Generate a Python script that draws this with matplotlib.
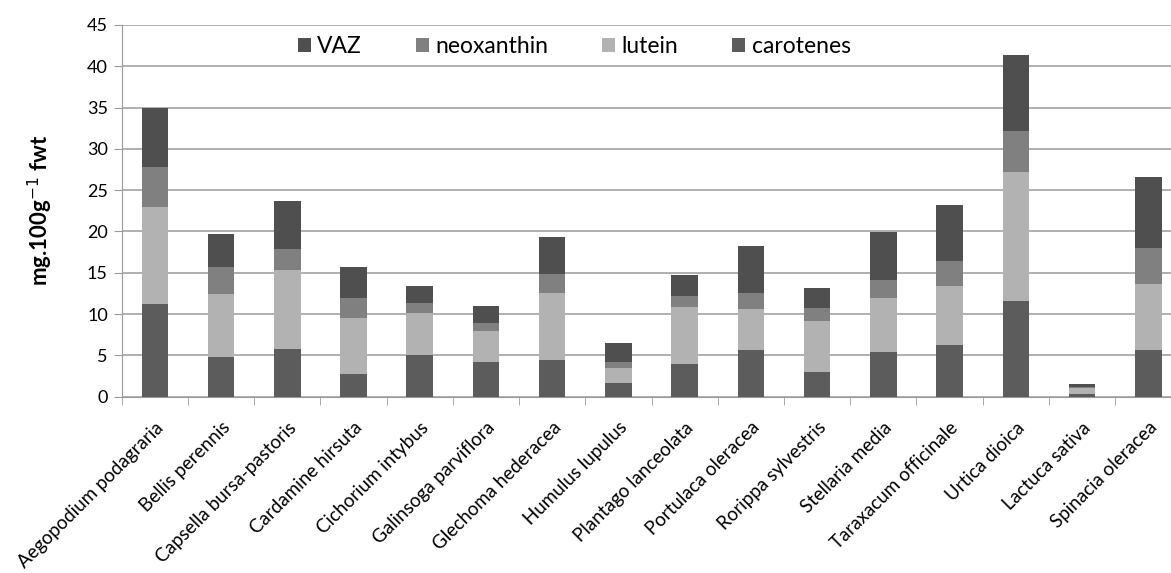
import numpy as np
import matplotlib.pyplot as plt
import matplotlib.transforms as mtransforms

plt.rcParams['font.family'] = ['Lato', 'DejaVu Sans']

species = ['Aegopodium podagraria', 'Bellis perennis', 'Capsella bursa-pastoris',
           'Cardamine hirsuta', 'Cichorium intybus', 'Galinsoga parviflora',
           'Glechoma hederacea', 'Humulus lupulus', 'Plantago lanceolata',
           'Portulaca oleracea', 'Rorippa sylvestris', 'Stellaria media',
           'Taraxacum officinale', 'Urtica dioica', 'Lactuca sativa',
           'Spinacia oleracea']

carotenes = [11.2, 4.8, 5.8, 2.7, 5.1, 4.2, 4.5, 1.7, 4.0, 5.65, 3.0, 5.4, 6.3, 11.6, 0.32, 5.7]
lutein = [11.8, 7.6, 9.5, 6.85, 5.0, 3.75, 8.1, 1.77, 6.9, 4.95, 6.2, 6.55, 7.1, 15.6, 0.69, 8.0]
neoxanthin = [4.8, 3.25, 2.55, 2.45, 1.2, 1.0, 2.25, 0.73, 1.3, 2.0, 1.5, 2.2, 3.05, 5.0, 0.2, 4.27]
vaz = [7.1, 4.0, 5.85, 3.7, 2.1, 2.05, 4.45, 2.25, 2.5, 5.65, 2.4, 5.8, 6.8, 9.2, 0.32, 8.58]

fig = plt.figure(figsize=(11.71, 5.73), dpi=100)
ax = fig.add_axes([0.1039, 0.3077, 0.905, 0.6487])

x = np.arange(len(species))
w = 0.40
bot = np.zeros(len(species))
bars = {}
for name, vals, col in [('carotenes', carotenes, '#5c5c5c'),
                        ('lutein', lutein, '#b2b2b2'),
                        ('neoxanthin', neoxanthin, '#808080'),
                        ('VAZ', vaz, '#4f4f4f')]:
    bars[name] = ax.bar(x, vals, w, bottom=bot, color=col, zorder=3)
    bot += np.array(vals)

ax.set_xlim(-0.5, len(species) - 0.5)
ax.set_ylim(0, 45)
ax.set_yticks(range(0, 46, 5))
ax.yaxis.grid(True, color='#aaaaaa', linewidth=1.3, zorder=0)

for s in ['top', 'right']:
    ax.spines[s].set_visible(False)
ax.spines['left'].set_color('#9a9a9a')
ax.spines['bottom'].set_color('#9a9a9a')

ax.set_xticks(x)
ax.set_xticklabels(species, rotation=45, ha='right', rotation_mode='anchor', fontsize=13.5)
# nudge labels a little to the right, like the original
shift = mtransforms.ScaledTranslation(0.06, 0, fig.dpi_scale_trans)
for lab in ax.get_xticklabels():
    lab.set_transform(lab.get_transform() + shift)
ax.set_xticks(np.arange(-0.5, len(species), 1), minor=True)
ax.tick_params(axis='x', which='major', length=0, pad=16)
ax.tick_params(axis='x', which='minor', length=6, color='#9a9a9a')
ax.tick_params(axis='y', length=6, color='#9a9a9a', labelsize=13, pad=4)

ax.set_ylabel('mg.100g$^{-1}$ fwt', fontsize=16, fontweight='bold', labelpad=23)

handles = [bars['VAZ'], bars['neoxanthin'], bars['lutein'], bars['carotenes']]
labels = ['VAZ', 'neoxanthin', 'lutein', 'carotenes']
leg = ax.legend(handles, labels, ncol=4, loc='center left', bbox_to_anchor=(0.162, 0.941),
                frameon=True, fontsize=16.5, handlelength=0.57, handleheight=0.57,
                handletextpad=0.28, columnspacing=2.35, borderpad=0.2, borderaxespad=0)
leg.get_frame().set_edgecolor('none')
leg.get_frame().set_facecolor('white')
leg.get_frame().set_alpha(1)
leg.set_zorder(5)

fig.savefig('out.png', dpi=100, facecolor='white')
